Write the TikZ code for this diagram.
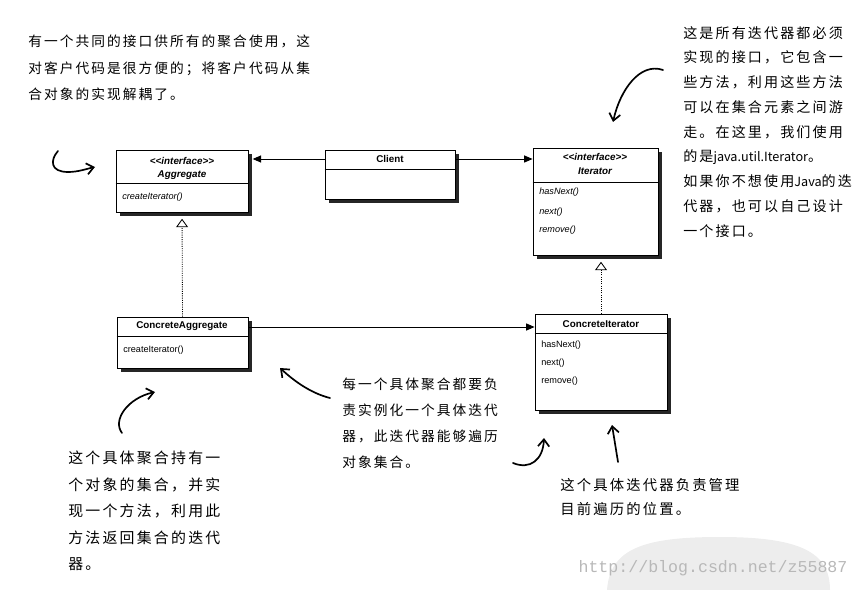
\documentclass[tikz,border=0pt]{standalone}
\usepackage{fontspec}
\setmainfont{Liberation Sans}
\newfontfamily\cjk[LetterSpace=15]{Noto Sans CJK SC}
\newfontfamily\cjklatin{Noto Sans CJK SC}
\newfontfamily\wmfont{Liberation Mono}
\newcommand{\lat}[1]{{\cjklatin\fontsize{9}{17.6}\selectfont #1}}
\usetikzlibrary{arrows.meta}
\usetikzlibrary{fit}
\usetikzlibrary{shadows}

\tikzset{
	cls/.style={draw, fill=white, inner sep=0pt, line width=0.6pt,
		drop shadow={shadow xshift=3pt, shadow yshift=-3pt, fill=black, opacity=.85}},
	hd/.style={font=\fontsize{7}{8}\selectfont\bfseries, inner sep=0pt},
	ihd/.style={font=\fontsize{7}{8}\selectfont\bfseries\itshape, inner sep=0pt},
	mtd/.style={font=\fontsize{6.5}{8}\selectfont, anchor=west, inner sep=0pt},
	imtd/.style={mtd, font=\fontsize{6.5}{8}\selectfont\itshape},
	note/.style={align=left, anchor=north west, inner sep=0pt},
	hand/.style={line width=1.2pt, line cap=round, -{Straight Barb[length=5pt,width=8pt]}},
	assoc/.style={line width=0.7pt, -{Triangle[length=6pt,width=5pt]}},
	realize/.style={densely dotted, line width=0.6pt, -{Triangle[open,length=6pt,width=8.5pt]}, shorten >=4.5pt},
}

\begin{document}
\begin{tikzpicture}[x=0.025cm, y=-0.025cm]
	\useasboundingbox (0,0) rectangle (859,590);
	
	% watermark
	\fill[black!7] (607,590) .. controls (610,548) and (645,537) .. (720,537) .. controls (800,537) and (830,552) .. (830,590) -- cycle;
	\node[font=\wmfont\fontsize{11.8}{12}\selectfont, text=black!28, inner sep=0pt] (wm) at (713,568) {http://blog.csdn.net/z55887};
	
	% Aggregate
	\node[cls, fit={(116,150) (248,212)}] (agg) {};
	\draw[line width=0.5pt] (agg.west |- 0,183) -- (agg.east |- 0,183);
	\node[ihd] (agghead) at (182,161) {<{}<interface>{}>};
	\node[ihd] (aggname) at (182,175) {Aggregate};
	\node[imtd] (aggop) at (122,197) {createIterator()};
	
	% Client
	\node[cls, fit={(325,150) (455,199)}] (client) {};
	\draw[line width=0.5pt] (client.west |- 0,169) -- (client.east |- 0,169);
	\node[hd] (clientname) at (390,159) {Client};
	
	% Iterator
	\node[cls, fit={(533,148) (658,255)}] (iter) {};
	\draw[line width=0.5pt] (iter.west |- 0,182) -- (iter.east |- 0,182);
	\node[ihd] (iterhead) at (595,157) {<{}<interface>{}>};
	\node[ihd] (itername) at (595,171) {Iterator};
	\node[imtd] (iterop1) at (539,192) {hasNext()};
	\node[imtd] (iterop2) at (539,212) {next()};
	\node[imtd] (iterop3) at (539,230) {remove()};
	
	% ConcreteAggregate
	\node[cls, fit={(117,317) (248,368)}] (cagg) {};
	\draw[line width=0.5pt] (cagg.west |- 0,336) -- (cagg.east |- 0,336);
	\node[hd] (caggname) at (182,326) {ConcreteAggregate};
	\node[mtd] (caggop) at (123,350) {createIterator()};
	
	% ConcreteIterator
	\node[cls, fit={(535,314) (667,410)}] (citer) {};
	\draw[line width=0.5pt] (citer.west |- 0,333) -- (citer.east |- 0,333);
	\node[hd] (citername) at (601,324) {ConcreteIterator};
	\node[mtd] (citerop1) at (541,345) {hasNext()};
	\node[mtd] (citerop2) at (541,363) {next()};
	\node[mtd] (citerop3) at (541,381) {remove()};
	
	% connectors
	\draw[assoc, shorten >=3pt] (client.west |- 0,159) -- (agg.east |- 0,159);
	\draw[assoc] (client.east |- 0,159) -- (iter.west |- 0,159);
	\draw[assoc] (cagg.east |- 0,327) -- (citer.west |- 0,327);
	\draw[realize] (cagg.north) -- (agg.south);
	\draw[realize] (citer.north) -- (citer.north |- iter.south);
	
	% notes
	\node[note, font=\fontsize{9.75}{18.8}\selectfont\cjk] (clientnote) at (28,35)
	{有一个共同的接口供所有的聚合使用，这\\对客户代码是很方便的；将客户代码从集\\合对象的实现解耦了。};
	\node[note, font=\fontsize{10}{17.6}\selectfont\cjk] (iternote) at (683,26)
	{这是所有迭代器都必须\\实现的接口，它包含一\\些方法，利用这些方法\\可以在集合元素之间游\\走。在这里，我们使用\\的是\lat{java.util.Iterator}。\\如果你不想使用\lat{Java}的迭\\代器，也可以自己设计\\一个接口。};
	\node[note, font=\fontsize{9.75}{18.5}\selectfont\cjk] (midnote) at (342,378)
	{每一个具体聚合都要负\\责实例化一个具体迭代\\器，此迭代器能够遍历\\对象集合。};
	\node[note, font=\fontsize{10.6}{18.8}\selectfont\cjk] (aggnote) at (68,451)
	{这个具体聚合持有一\\个对象的集合，并实\\现一个方法，利用此\\方法返回集合的迭代\\器。};
	\node[note, font=\fontsize{10.2}{17}\selectfont\cjk] (curnote) at (560,478)
	{这个具体迭代器负责管理\\目前遍历的位置。};
	
	% hand arrows
	\draw[hand] (58,151) .. controls (50,160) and (50,172) .. (68,172) .. controls (78,172) and (86,169) .. (95,167);
	\draw[hand] (663,70) .. controls (640,62) and (620,90) .. (613,122);
	\draw[hand] (122,433) .. controls (112,420) and (128,398) .. (155,392);
	\draw[hand] (330,398) .. controls (310,393) and (293,380) .. (280,368);
	\draw[hand] (513,463) .. controls (530,470) and (543,460) .. (544,438);
	\draw[hand] (618,462) -- (612,425);
\end{tikzpicture}
\end{document}
